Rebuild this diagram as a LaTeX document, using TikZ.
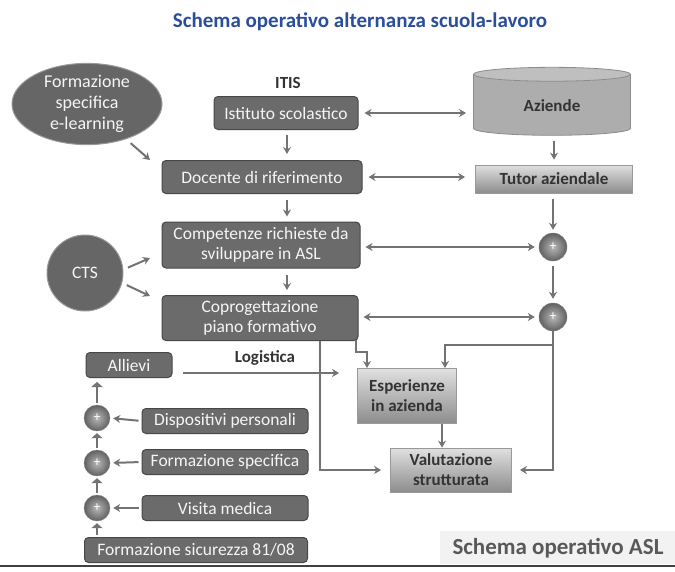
\documentclass[tikz,border=0pt]{standalone}
\usepackage{fontspec}
\setmainfont{Carlito}
\usetikzlibrary{arrows.meta,shapes.geometric}

\colorlet{dark box color}{black!58}
\colorlet{dark box border}{black!72}
\colorlet{link color}{black!55}
\definecolor{title color}{HTML}{2A4D9C}

\tikzset{
    x={1pt},
    y={-1pt},
    dark box/.style={
        rectangle, rounded corners={4pt},
        fill=dark box color, draw=dark box border,
        line width={1pt},
        text=black!4,
        font={\fontsize{17.5}{20}\selectfont},
        align=center,
        inner sep=0pt,
    },
    dark blob/.style={
        dark box, rounded corners=0pt,
        fill=black!60,
        draw=black!40,
    },
    light box/.style={
        rectangle,
        top color=black!12, bottom color=black!45,
        draw=black!40,
        line width={0.8pt},
        text=black!80,
        font={\fontsize{17}{20}\selectfont\bfseries},
        align=center,
        inner sep=0pt,
    },
    plus node/.style={
        circle, shading=radial,
        inner color=black!28, outer color=black!62,
        draw=black!50,
        text=white,
        font={\fontsize{14}{14}\selectfont},
        inner sep=0pt,
        minimum size={#1},
    },
    plus node/.default={28},
    link/.style={
        draw=link color,
        line width={2pt},
        -{Stealth[length=7pt,width=8pt]},
    },
    double link/.style={
        link,
        {Stealth[length=7pt,width=8pt]}-{Stealth[length=7pt,width=8pt]},
    },
    stack link/.style={
        draw=link color,
        line width={2.5pt},
        -{Triangle[length=5pt,width=11pt]},
    },
    plain label/.style={
        font={\fontsize{17}{20}\selectfont\bfseries},
        text=black!80,
    },
}

\begin{document}
\begin{tikzpicture}
\useasboundingbox (0,0) rectangle (675,571);
% background
\fill[black!5] (440,531) rectangle (675,564);
\draw[black!75, line width={2pt}] (0,566) -- (675,566);
% titles
\node[font={\fontsize{21}{24}\selectfont\bfseries}, text=title color] (title) at (360,22) {Schema operativo alternanza scuola-lavoro};
\node[font={\fontsize{23}{26}\selectfont\bfseries}, text=black!65] (asl) at (558,548) {Schema operativo ASL};
\node[plain label] (itis) at (288,83) {ITIS};
\node[plain label] (logistica) at (265,358) {Logistica};
% upper part
\node[dark blob, ellipse, minimum width={150}, minimum height={72},
      font={\fontsize{18}{21}\selectfont}] (elearn) at (87,104) {Formazione\\specifica\\e-learning};
\node[dark box, minimum width={144}, minimum height={33}] (istituto) at (286,113) {Istituto scolastico};
\node[cylinder, shape border rotate=90, aspect=0.22,
      cylinder uses custom fill, cylinder body fill=black!32, cylinder end fill=black!25,
      draw=black!45, line width={0.8pt}, minimum width={157}, minimum height={68},
      font={\fontsize{17}{20}\selectfont\bfseries}, text=black!80] (aziende) at (552,106) {Aziende};
\node[dark box, minimum width={200}, minimum height={33}] (docente) at (262,177) {Docente di riferimento};
\node[light box, minimum width={157}, minimum height={28}] (tutor) at (554,179) {Tutor aziendale};
\node[dark box, minimum width={198}, minimum height={46}] (competenze) at (261,245) {Competenze richieste da\\sviluppare in ASL};
\node[plus node] (plus a) at (553,247) {+};
\node[dark blob, circle, minimum size={76}] (cts) at (85,273) {CTS};
\node[dark box, minimum width={196}, minimum height={45}] (copro) at (260,318) {Coprogettazione\\piano formativo};
\node[plus node] (plus b) at (553,317) {+};
\node[light box, minimum width={99}, minimum height={55}] (esperienze) at (407,396) {Esperienze\\in azienda};
\node[light box, minimum width={121}, minimum height={44}] (valutazione) at (451,470) {Valutazione\\strutturata};
% lower left part
\node[dark box, minimum width={86}, minimum height={25}] (allievi) at (129,365) {Allievi};
\node[plus node={26}] (plus 1) at (97,418) {+};
\node[plus node={26}] (plus 2) at (97,463) {+};
\node[plus node={26}] (plus 3) at (97,508) {+};
\node[dark box, minimum width={166}, minimum height={25}] (dispositivi) at (225,421) {Dispositivi personali};
\node[dark box, minimum width={166}, minimum height={25}] (formspec) at (225,462) {Formazione specifica};
\node[dark box, minimum width={166}, minimum height={25}] (visita) at (225,508) {Visita medica};
\node[dark box, minimum width={223}, minimum height={25}] (sicurezza) at (196,550) {Formazione sicurezza 81/08};
% free ends
\coordinate (elearn end) at (150,160);
\coordinate (cts up end) at (150,258);
\coordinate (cts down end) at (150,296);
\coordinate (esp in left) at (367,368);
\coordinate (esp in right) at (445,368);
% connectors
\path[double link, shorten <=6pt, shorten >=7pt] (istituto.east) -- (istituto.east -| aziende.west);
\path[link, shorten <=5pt, shorten >=6pt] (istituto.south -| 287,0) -- (docente.north -| 287,0);
\path[link, shorten <=6pt] (elearn.-42) -- (elearn end);
\path[link, shorten <=5pt, shorten >=5pt] (aziende.south -| tutor) -- (tutor.north);
\path[double link, shorten <=6pt, shorten >=10pt] (docente.east) -- (docente.east -| tutor.west);
\path[link, shorten <=6pt, shorten >=5pt] (docente.south -| 287,0) -- (competenze.north -| 287,0);
\path[link, shorten <=6pt, shorten >=3pt] (tutor.south -| plus a) -- (plus a.north);
\path[double link, shorten <=5pt, shorten >=4pt] (competenze.east |- plus a) -- (plus a.west);
\path[link, shorten <=5pt] (cts.5) -- (cts up end);
\path[link, shorten <=5pt] (cts.-15) -- (cts down end);
\path[link, shorten <=6pt, shorten >=5pt] (competenze.south -| 287,0) -- (copro.north -| 287,0);
\path[link, shorten <=5pt, shorten >=4pt] (plus a.south) -- (plus b.north);
\path[double link, shorten <=5pt, shorten >=4pt] (copro.east |- plus b) -- (plus b.west);
\path[link] (plus b.south) |- (445,345) -- (esp in right);
\path[link, shorten >=8pt] (plus b.south) |- (valutazione.east);
\path[link] (356,340) |- (367,352) -- (esp in left);
\path[link, shorten >=9pt] (copro.south -| 320,0) |- (valutazione.west);
\path[link] (esperienze.south -| 442,0) -- (valutazione.north -| 442,0);
\path[link, shorten <=10pt, shorten >=18pt] (allievi.east |- 0,373) -- (esperienze.west |- 0,373);
\path[link, shorten <=3pt, shorten >=3pt] (dispositivi.west) -- (plus 1.east);
\path[link, shorten <=3pt, shorten >=3pt] (formspec.west) -- (plus 2.east);
\path[link, shorten <=3pt, shorten >=3pt] (visita.west) -- (plus 3.east);
\path[stack link, shorten <=2pt, shorten >=2pt] (sicurezza.north -| plus 3) -- (plus 3.south);
\path[stack link, shorten <=2pt, shorten >=2pt] (plus 3.north) -- (plus 2.south);
\path[stack link, shorten <=2pt, shorten >=2pt] (plus 2.north) -- (plus 1.south);
\path[stack link, shorten <=2pt, shorten >=4pt] (plus 1.north) -- (allievi.south -| plus 1);
\end{tikzpicture}
\end{document}
